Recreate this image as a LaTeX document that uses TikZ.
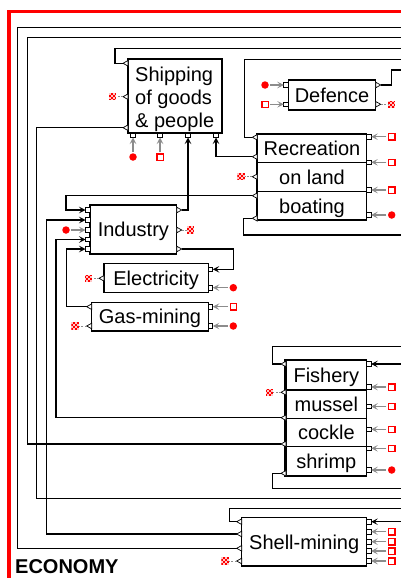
\documentclass[tikz,border=0pt]{standalone}
\usepackage{fontspec}
\setmainfont{Liberation Sans}
\usetikzlibrary{arrows.meta}
\definecolor{flowgray}{RGB}{140,140,140}
\newcommand\boxfont{\fontsize{20}{23.3}\selectfont}
\tikzset{
  wire/.style={line width=1.1pt, draw=black},
  feed/.style={wire, -{Stealth[length=6.5pt,width=6.5pt,inset=2.8pt]}},
  inflow/.style={line width=1.1pt, draw=flowgray, shorten <=1.5pt, -{Stealth[length=6.5pt,width=6.5pt,inset=2.8pt]}},
  leak/.style={line width=0.8pt, draw=flowgray, dash pattern=on 2pt off 1.5pt},
  box/.style={draw, line width=1.1pt, rectangle, inner sep=0pt, font=\boxfont, fill=white},
  one/.style={text height=14.3pt, text depth=0pt},
  srcdot/.style={circle, fill=red, minimum size=7.5pt, inner sep=0pt},
  srcbox/.style={rectangle, draw=red, line width=1.3pt, fill=white, minimum size=6.3pt, inner sep=0pt},
  sink/.style={rectangle, minimum size=7.5pt, inner sep=0pt, fill=red!22,
    path picture={\foreach \i/\j in {0/0,0/2,1/1,1/3,2/0,2/2,3/1,3/3}
      {\fill[red] ([shift={(\i*1.875pt,\j*1.875pt)}]path picture bounding box.south west) rectangle ++(1.875pt,1.875pt);}}},
  outL/.pic={\filldraw[fill=white,draw=black,line width=0.7pt] (0,0) -- (5,-2.8) -- (5,2.8) -- cycle;},
  outR/.pic={\filldraw[fill=white,draw=black,line width=0.7pt] (0,0) -- (-5,-2.8) -- (-5,2.8) -- cycle;},
  inL/.pic={\filldraw[fill=white,draw=black,line width=0.8pt] (0,-2.25) rectangle (4.5,2.25);},
  inR/.pic={\filldraw[fill=white,draw=black,line width=0.8pt] (-4.5,-2.25) rectangle (0,2.25);},
  inB/.pic={\filldraw[fill=white,draw=black,line width=0.8pt] (-2.25,0) rectangle (2.25,-4.5);},
}
\begin{document}
\begin{tikzpicture}[x=1pt,y=-1pt]
\useasboundingbox (0,0) rectangle (401,578);
\clip (0,0) rectangle (401,578);
\fill[white] (0,0) rectangle (401,578);

% sector frame
\draw[red, line width=3.6pt] (8.8,11.6) rectangle (420,581);
\node[anchor=base west, inner sep=0pt, font=\fontsize{20}{24}\selectfont\bfseries] (title) at (15,573) {ECONOMY};

% ports
\foreach \k/\y in {1/63.3,2/96.7,3/127.7} {\coordinate (shipL\k) at (123,\y);}
\foreach \k/\x in {1/133,2/160,3/188,4/216} {\coordinate (shipB\k) at (\x,137.5);}
\foreach \k/\y in {1/85,2/104.3} {\coordinate (defL\k) at (283.8,\y); \coordinate (defR\k) at (380.7,\y);}
\foreach \k/\y in {1/137.3,2/156.7,3/176.7,4/195.7,5/218.3} {\coordinate (recL\k) at (252.3,\y);}
\foreach \k/\y in {1/136.7,2/162.3,3/190,4/215} {\coordinate (recR\k) at (371.2,\y);}
\foreach \k/\y in {1/210,2/220,3/230,4/239.5,5/249} {\coordinate (indL\k) at (85.5,\y);}
\foreach \k/\y in {1/210,2/230,3/249} {\coordinate (indR\k) at (181.7,\y);}
\coordinate (eleL1) at (99,278.3);
\foreach \k/\y in {1/269.3,2/287.7} {\coordinate (eleR\k) at (212.8,\y);}
\foreach \k/\y in {1/306.7,2/326} {\coordinate (gasL\k) at (86.7,\y); \coordinate (gasR\k) at (212.8,\y);}
\foreach \k/\y in {1/364,2/392.3,3/417.7,4/444,5/473.3} {\coordinate (fisL\k) at (281,\y);}
\foreach \k/\y in {1/364,2/387,3/406.5,4/429.3,5/448.3,6/470} {\coordinate (fisR\k) at (371.2,\y);}
\foreach \k/\y in {1/521.7,2/534,3/548.3,4/561} {\coordinate (shlL\k) at (236.7,\y);}
\foreach \k/\y in {1/521.7,2/531.7,3/541.7,4/551,5/561} {\coordinate (shlR\k) at (371.2,\y);}

% links leaving the sector
\coordinate (xA) at (405,48.3);
\coordinate (xB) at (405,27.3);
\coordinate (xC) at (405,37.3);
\coordinate (xD) at (405,498.3);
\coordinate (xE) at (405,59.3);
\coordinate (xF) at (405,235);
\coordinate (xG) at (405,70);
\coordinate (xH) at (405,346.7);
\coordinate (xI) at (405,364);
\coordinate (xJ) at (405,488.3);
\coordinate (xK) at (405,508.3);
\coordinate (xL) at (405,521.7);

% connectors
\draw[wire] (shipL1) -| (115,48.3) -- (xA);
\draw[wire] (shlL3) -| (17.3,27.3) -- (xB);
\draw[wire] (fisL4) -| (27.3,37.3) -- (xC);
\draw[wire] (shipL3) -| (36.7,498.3) -- (xD);
\draw[wire] (recL1) -| (244.3,59.3) -- (xE);
\draw[feed] (recL2) -| (shipB4);
\draw[feed] (recL4) -| (66,210) -- (indL1);
\draw[wire] (recL5) -| (243.3,235) -- (xF);
\draw[feed] (indR1) -| (shipB3);
\draw[feed] (indR3) -| (233.3,269.3) -- (eleR1);
\draw[feed] (gasL1) -| (66.7,249) -- (indL5);
\draw[feed] (fisL3) -| (56,239.5) -- (indL4);
\draw[feed] (shlL2) -| (46.7,220) -- (indL2);
\draw[wire] (defR1) -| (391.7,70) -- (xG);
\draw[wire] (fisL1) -| (272.7,346.7) -- (xH);
\draw[feed] (xI) -- (fisR1);
\draw[wire] (fisL5) -| (272.7,488.3) -- (xJ);
\draw[wire] (shlL1) -| (229.3,508.3) -- (xK);
\draw[feed] (xL) -- (shlR1);

% sectors
\node[box, minimum width=94pt, minimum height=74pt] (ship) at (175,96) {};
\node[anchor=base west, inner sep=0pt, font=\boxfont, align=left] (shiptext) at (135,127.7) {Shipping\\of goods\\\& people};
\node[box, one, minimum width=87.4pt, minimum height=30pt] (def) at (332,95) {Defence};
\node[box, one, minimum width=109.4pt, minimum height=28.3pt] (rec1) at (312,148.15) {Recreation};
\node[box, one, minimum width=109.4pt, minimum height=29.4pt] (rec2) at (312,177) {on land};
\node[box, one, minimum width=109.4pt, minimum height=28.3pt] (rec3) at (312,205.85) {boating};
\draw[line width=2.2pt] (rec1.north west) -- (rec3.south west);
\node[box, one, minimum width=86.7pt, minimum height=49pt] (ind) at (133.35,229.5) {Industry};
\node[box, one, minimum width=104.3pt, minimum height=29.4pt] (ele) at (156.15,278) {Electricity};
\node[box, one, minimum width=116.6pt, minimum height=28.7pt] (gas) at (150,316.65) {Gas-mining};
\node[box, one, minimum width=80.7pt, minimum height=30pt] (fis1) at (326.35,375) {Fishery};
\node[box, one, minimum width=80.7pt, minimum height=28.3pt] (fis2) at (326.35,404.15) {mussel};
\node[box, one, minimum width=80.7pt, minimum height=28.4pt] (fis3) at (326.35,432.5) {cockle};
\node[box, one, minimum width=80.7pt, minimum height=29.3pt] (fis4) at (326.35,461.35) {shrimp};
\draw[line width=2.2pt] (fis1.north west) -- (fis4.south west);
\node[box, one, minimum width=125pt, minimum height=48.3pt] (shl) at (304.2,541.85) {Shell-mining};

% port symbols
\foreach \k in {1,2,3} {\pic at (shipL\k) {outL};}
\foreach \k in {1,2,3,4} {\pic at (shipB\k) {inB};}
\foreach \k in {1,2} {\pic at (defL\k) {inL}; \pic at (defR\k) {outR};}
\foreach \k in {1,...,5} {\pic at (recL\k) {outL};}
\foreach \k in {1,...,4} {\pic at (recR\k) {inR};}
\foreach \k in {1,...,5} {\pic at (indL\k) {inL};}
\foreach \k in {1,2,3} {\pic at (indR\k) {outR};}
\pic at (eleL1) {outL};
\foreach \k in {1,2} {\pic at (eleR\k) {inR}; \pic at (gasL\k) {outL}; \pic at (gasR\k) {inR};}
\foreach \k in {1,...,5} {\pic at (fisL\k) {outL};}
\foreach \k in {1,...,6} {\pic at (fisR\k) {inR};}
\foreach \k in {1,...,4} {\pic at (shlL\k) {outL};}
\foreach \k in {1,...,5} {\pic at (shlR\k) {inR};}

% outside inputs
\node[srcdot] (sShip1) at (133,157) {};
\node[srcbox] (sShip2) at (160,157) {};
\draw[inflow] (sShip1) -- (shipB1);
\draw[inflow] (sShip2) -- (shipB2);
\node[srcdot] (sDef1) at (265,85) {};
\node[srcbox] (sDef2) at (265,104.3) {};
\draw[inflow] (sDef1) -- (defL1);
\draw[inflow] (sDef2) -- (defL2);
\node[srcdot] (sInd) at (66,230) {};
\draw[inflow] (sInd) -- (indL3);
\node[srcdot] (sEle) at (233.3,287.7) {};
\draw[inflow] (sEle) -- (eleR2);
\node[srcbox] (sGas1) at (233.3,306.7) {};
\node[srcdot] (sGas2) at (233.3,326) {};
\draw[inflow] (sGas1) -- (gasR1);
\draw[inflow] (sGas2) -- (gasR2);
\foreach \k in {1,2,3} {\node[srcbox] (sRec\k) at (391.7,0|-recR\k) {}; \draw[inflow] (sRec\k) -- (recR\k);}
\node[srcdot] (sRec4) at (391.7,215) {};
\draw[inflow] (sRec4) -- (recR4);
\foreach \k in {2,...,5} {\node[srcbox] (sFis\k) at (391.7,0|-fisR\k) {}; \draw[inflow] (sFis\k) -- (fisR\k);}
\node[srcdot] (sFis6) at (391.7,470) {};
\draw[inflow] (sFis6) -- (fisR6);
\foreach \k in {2,...,5} {\node[srcbox] (sShl\k) at (391.7,0|-shlR\k) {}; \draw[inflow] (sShl\k) -- (shlR\k);}

% outside outputs
\node[sink] (kShip) at (112.7,96.7) {};
\draw[leak] (shipL2) -- (kShip);
\node[sink] (kDef) at (391.7,104.3) {};
\draw[leak] (defR2) -- (kDef);
\node[sink] (kRec) at (241,176.7) {};
\draw[leak] (recL3) -- (kRec);
\node[sink] (kInd) at (190.7,230) {};
\draw[leak] (indR2) -- (kInd);
\node[sink] (kEle) at (88.3,278.3) {};
\draw[leak] (eleL1) -- (kEle);
\node[sink] (kGas) at (75,326) {};
\draw[leak] (gasL2) -- (kGas);
\node[sink] (kFis) at (269.3,392.3) {};
\draw[leak] (fisL2) -- (kFis);
\node[sink] (kShl) at (225,561) {};
\draw[leak] (shlL4) -- (kShl);
\end{tikzpicture}
\end{document}
